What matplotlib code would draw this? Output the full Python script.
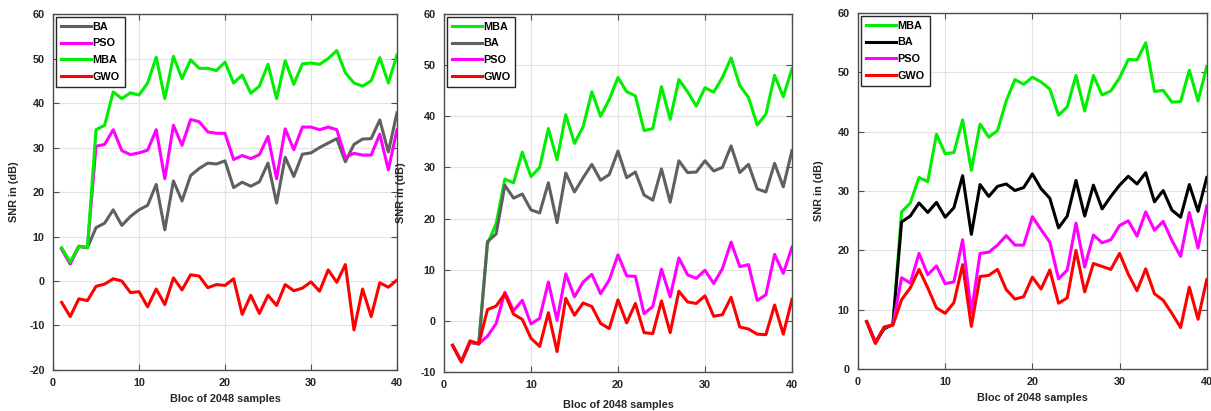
import numpy as np
import matplotlib
matplotlib.use('Agg')
import matplotlib.pyplot as plt

plt.rcParams['font.family'] = ['Liberation Sans', 'DejaVu Sans']
plt.rcParams['font.weight'] = 'bold'
plt.rcParams['axes.unicode_minus'] = False

bloc = np.arange(1, 41)

# panel 1
mba_1 = [7.5, 4.2, 7.8, 7.5, 34, 35, 42.5, 41, 42.3, 41.8, 44.5, 50.3, 41, 50.5, 45.5, 49.7, 47.8, 47.8, 47.3, 49.2,
         44.5, 46.3, 42.2, 43.8, 48.7, 41, 49.5, 44.2, 48.8, 49, 48.7, 50, 51.8, 46.8, 44.5, 43.8, 45, 50.2, 44.5, 50.8]
pso_1 = [7.2, 3.8, 7.8, 7.5, 30.3, 30.7, 34, 29.3, 28.4, 28.8, 29.4, 34, 23, 35, 30.5, 36.3, 35.8, 33.5, 33.2, 33.2,
         27.3, 28.2, 27.5, 28.4, 32.5, 23, 34.2, 29.5, 34.6, 34.6, 34, 34.6, 34, 27.8, 28.7, 28.3, 28.3, 33, 25, 34]
ba_1 = [7.2, 4, 7.8, 7.5, 12, 13, 16, 12.5, 14.5, 16, 17, 21.7, 11.5, 22.5, 18, 23.7, 25.3, 26.5, 26.3, 27,
        21, 22.2, 21.3, 22.3, 26.5, 17.5, 27.8, 23.5, 28.5, 28.8, 30, 31, 32, 26.8, 30.7, 31.9, 32, 36.2, 29, 37.8]
gwo_1 = [-4.8, -8, -4, -4.4, -1.2, -0.7, 0.5, 0, -2.6, -2.4, -5.8, -1.8, -5.3, 0.7, -2, 1.4, 1.1, -1.5, -0.8, -1,
         0.5, -7.5, -3.2, -7.3, -3.2, -5.5, -0.8, -2.2, -1.6, -0.2, -2.3, 2.5, -0.3, 3.7, -11, -1.8, -8, -0.4, -1.4, 0.2]

# panel 2
mba_2 = [-4.8, -8, -4.2, -4.5, 15, 19, 27.7, 27, 33, 28.2, 30, 37.6, 31.5, 40.3, 34.7, 38, 44.8, 40, 43.3, 47.6,
         44.8, 44, 37.2, 37.6, 45.8, 39.4, 47.2, 44.8, 42, 45.6, 44.7, 47.6, 51.4, 46, 43.7, 38.3, 40.4, 48, 43.8, 49.3]
ba_2 = [-4.8, -8, -4.2, -4.5, 15.5, 17, 26.5, 24, 24.8, 21.7, 21.1, 27, 19.2, 28.9, 25.2, 28, 30.6, 27.5, 28.6, 33.2,
        28, 29.1, 24.6, 23.6, 29.7, 23.2, 31.3, 29, 29.1, 31.3, 29.3, 30, 34.2, 29, 30.6, 25.8, 25.2, 30.8, 26.2, 33.3]
pso_2 = [-4.8, -8, -4.2, -4.5, -3, -0.5, 5.6, 2, 4, -0.6, 0.5, 7.6, 0.1, 9.2, 4.7, 7.6, 9.1, 5.3, 8, 12.9,
         8.8, 8.7, 1.4, 2.8, 10.1, 4.7, 12.3, 9, 8.3, 9.9, 7.3, 10.2, 15.4, 10.6, 11, 4, 5.1, 13, 9.3, 14.4]
gwo_2 = [-4.8, -8, -3.9, -4.5, 2.2, 2.9, 5.3, 1.3, 0.3, -3.4, -5, 1.6, -6, 4.4, 1.1, 3.5, 2.8, -0.5, -1.5, 4.1,
         -0.4, 3.4, -2.3, -2.5, 3.9, -2.3, 5.8, 3.7, 3.4, 4.9, 0.9, 1.2, 4.6, -1.2, -1.6, -2.6, -2.7, 3.1, -2.6, 4.2]

# panel 3
mba_3 = [8, 4.5, 7, 7.5, 26.5, 28, 32.3, 31.6, 39.6, 36.3, 36.5, 42, 33.5, 41.3, 39.1, 40.2, 45.2, 48.8, 48, 49.2,
         48.4, 47.2, 42.8, 44.2, 49.5, 43.5, 49.5, 46.2, 46.9, 49.1, 52.2, 52.1, 55, 46.8, 47, 45, 45.1, 50.4, 45.2, 51]
ba_3 = [8, 4.5, 6.8, 7.5, 24.8, 25.8, 28, 26.4, 28.1, 25.6, 27.2, 32.6, 22.7, 31.1, 29.1, 30.8, 31.2, 30.1, 30.6, 32.9,
        30.4, 28.8, 23.8, 25.8, 31.8, 25.8, 31, 27, 29.1, 31, 32.5, 31.2, 33.1, 28.2, 30.1, 26.8, 25.6, 31.1, 26.6, 32.3]
pso_3 = [8, 4.5, 7, 7.5, 15.4, 14.5, 19.5, 15.9, 17.4, 14.4, 14.7, 21.8, 9.5, 19.5, 19.7, 20.9, 22.5, 20.9, 20.9, 25.7,
         23.5, 21.4, 15.2, 16.7, 24.6, 17.2, 22.6, 21.3, 21.8, 24.2, 25, 22.4, 26.5, 23.4, 24.9, 21.7, 19, 26.4, 20.4, 27.5]
gwo_3 = [8, 4.3, 7.1, 7.4, 11.7, 13.7, 16.8, 13.7, 10.3, 9.4, 11.2, 17.6, 7.2, 15.6, 15.8, 16.8, 13.4, 11.8, 12.2, 15.5,
         13.5, 16.7, 11.1, 12, 20, 13, 17.8, 17.3, 16.8, 19.5, 16, 13.2, 16.9, 12.7, 11.6, 9.4, 7, 13.8, 8.4, 15.1]

GRAY = '#606060'
MAGENTA = '#ff00ff'
GREEN = '#00ee00'
RED = '#ff0000'
TXT = '#262626'

fig = plt.figure(figsize=(12.11, 4.11), dpi=100)
ax1 = fig.add_axes([0.0438, 0.0998, 0.284, 0.866])
ax2 = fig.add_axes([0.3666, 0.0949, 0.2874, 0.871])
ax3 = fig.add_axes([0.7085, 0.102, 0.288, 0.866])

lw = 2.2
fs = 7.8

ax1.plot(bloc, ba_1, color=GRAY, lw=lw, label='BA')
ax1.plot(bloc, pso_1, color=MAGENTA, lw=lw, label='PSO')
ax1.plot(bloc, mba_1, color=GREEN, lw=lw, label='MBA')
ax1.plot(bloc, gwo_1, color=RED, lw=lw, label='GWO')
ax1.set_ylim(-20, 60)

ax2.plot(bloc, mba_2, color=GREEN, lw=lw, label='MBA')
ax2.plot(bloc, ba_2, color=GRAY, lw=lw, label='BA')
ax2.plot(bloc, pso_2, color=MAGENTA, lw=lw, label='PSO')
ax2.plot(bloc, gwo_2, color=RED, lw=lw, label='GWO')
ax2.set_ylim(-10, 60)

ax3.plot(bloc, mba_3, color=GREEN, lw=lw, label='MBA')
ax3.plot(bloc, ba_3, color='black', lw=lw, label='BA')
ax3.plot(bloc, pso_3, color=MAGENTA, lw=lw, label='PSO')
ax3.plot(bloc, gwo_3, color=RED, lw=lw, label='GWO')
ax3.set_ylim(0, 60)

for ax in (ax1, ax2, ax3):
    ax.set_xlim(0, 40)
    ax.set_xticks([0, 10, 20, 30, 40])
    ax.grid(True, color='#e3e3e3', lw=0.8)
    ax.set_axisbelow(True)
    for s in ax.spines.values():
        s.set_color('#4d4d4d')
        s.set_linewidth(1.0)
    ax.tick_params(direction='in', top=True, right=True, length=4, color='#4d4d4d',
                   labelsize=fs, labelcolor=TXT, pad=6)
    for lab in ax.get_xticklabels() + ax.get_yticklabels():
        lab.set_fontweight('bold')
    ax.set_xlabel('Bloc of 2048 samples', fontsize=fs, fontweight='bold', color=TXT, labelpad=4)
    ax.set_ylabel('SNR in (dB)', fontsize=fs, fontweight='bold', color=TXT, labelpad=10)
    leg = ax.legend(loc='upper left', fancybox=False, framealpha=1,
                    handlelength=2.8, handletextpad=0.15, borderpad=0.45, labelspacing=0.62,
                    borderaxespad=0.25, prop={'weight': 'bold', 'size': fs})
    leg.get_frame().set_edgecolor(TXT)
    leg.get_frame().set_linewidth(1.0)

ax1.yaxis.set_label_coords(-0.1, 0.5)
ax2.xaxis.labelpad = 7

fig.savefig('out.png', dpi=100)
